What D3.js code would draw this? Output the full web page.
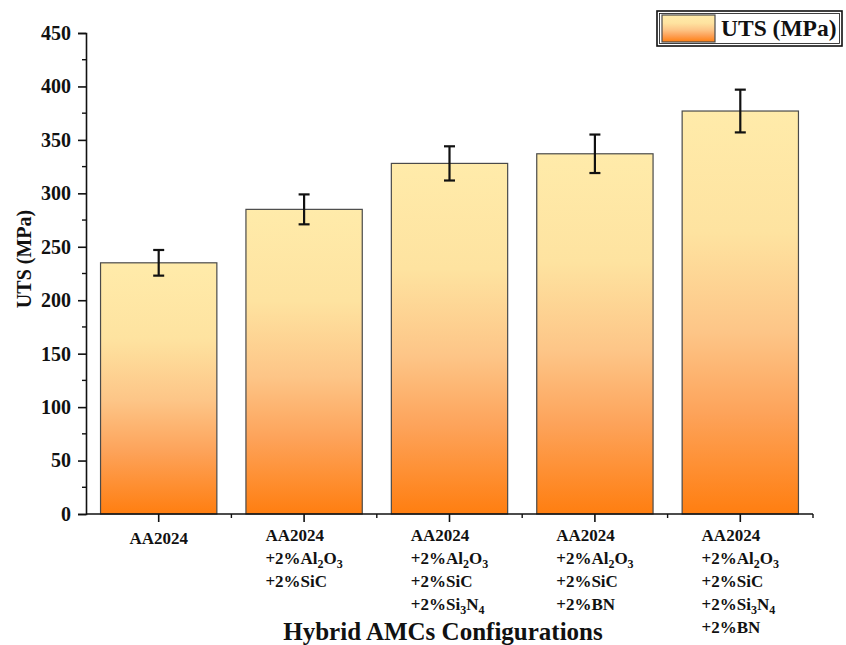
<!DOCTYPE html>
<html>
<head>
<meta charset="utf-8">
<script src="https://cdn.jsdelivr.net/npm/d3@7/dist/d3.min.js"></script>
<style>
  html, body { margin: 0; padding: 0; background: #fff; }
  svg { display: block; font-family: "Liberation Serif", "Times New Roman", serif; font-weight: bold; }
</style>
</head>
<body>
<svg id="chart" width="846" height="645"></svg>
<script>
// Category labels: one entry per line; {n} marks a subscript
const categories = [
  ["AA2024"],
  ["AA2024", "+2%Al{2}O{3}", "+2%SiC"],
  ["AA2024", "+2%Al{2}O{3}", "+2%SiC", "+2%Si{3}N{4}"],
  ["AA2024", "+2%Al{2}O{3}", "+2%SiC", "+2%BN"],
  ["AA2024", "+2%Al{2}O{3}", "+2%SiC", "+2%Si{3}N{4}", "+2%BN"]
];
const utsValues = [235, 285, 328, 337, 377];
const utsErrors = [12, 14, 16, 18, 20];
const yTicks = [0, 50, 100, 150, 200, 250, 300, 350, 400, 450];
const seriesName = "UTS (MPa)";
const xTitle = "Hybrid AMCs Configurations";
const yTitle = "UTS (MPa)";

const svg = d3.select("#chart");
const plotL = 86, plotR = 813, plotT = 33, plotB = 514;

const x = d3.scaleBand().domain(d3.range(categories.length)).range([plotL, plotR]).paddingInner(0.2).paddingOuter(0.1);
const xb = d3.scaleBand().domain(d3.range(categories.length)).range([plotL, plotR]).padding(0);
const y = d3.scaleLinear().domain([0, 450]).range([plotB, plotT]);

// Vertical gradient, applied per bar
const defs = svg.append("defs");
const grad = defs.append("linearGradient").attr("id", "barGrad")
  .attr("x1", 0).attr("y1", 0).attr("x2", 0).attr("y2", 1);
[[0, "#ffebaa"], [0.3, "#fee3a0"], [0.55, "#fdc587"], [0.75, "#fda35a"], [1, "#ff7e10"]]
  .forEach(([o, c]) => grad.append("stop").attr("offset", o).attr("stop-color", c));

// Bars
svg.append("g").selectAll("rect").data(utsValues).join("rect")
  .attr("x", (d, i) => x(i))
  .attr("y", d => y(d))
  .attr("width", x.bandwidth())
  .attr("height", d => y(0) - y(d))
  .attr("fill", "url(#barGrad)")
  .attr("stroke", "#4a4a4a")
  .attr("stroke-width", 1.2);

// Error bars
const eb = svg.append("g").attr("stroke", "#111").attr("stroke-width", 2.2);
utsValues.forEach((v, i) => {
  const cx = x(i) + x.bandwidth() / 2, e = utsErrors[i];
  eb.append("line").attr("x1", cx).attr("x2", cx).attr("y1", y(v + e)).attr("y2", y(v - e));
  eb.append("line").attr("x1", cx - 5.5).attr("x2", cx + 5.5).attr("y1", y(v + e)).attr("y2", y(v + e));
  eb.append("line").attr("x1", cx - 5.5).attr("x2", cx + 5.5).attr("y1", y(v - e)).attr("y2", y(v - e));
});

// Y axis
const yAxis = svg.append("g").attr("transform", `translate(${plotL},0)`)
  .call(d3.axisLeft(y).tickValues(yTicks).tickSize(8).tickPadding(7).tickFormat(d3.format("d")));
yAxis.select(".domain").attr("stroke-width", 1.6).attr("stroke", "#111");
yAxis.selectAll(".tick line").attr("stroke-width", 1.6).attr("stroke", "#111");
yAxis.selectAll("text").attr("font-size", 20).attr("font-family", "Liberation Serif").attr("font-weight", "bold").attr("fill", "#111");
// minor y ticks
svg.append("g").selectAll("line").data(d3.range(25, 450, 50)).join("line")
  .attr("x1", plotL - 4).attr("x2", plotL).attr("y1", d => y(d)).attr("y2", d => y(d))
  .attr("stroke", "#111").attr("stroke-width", 1.4);

// X axis
const xAxisG = svg.append("g").attr("transform", `translate(0,${plotB})`);
xAxisG.append("line").attr("x1", plotL).attr("x2", plotR).attr("stroke", "#111").attr("stroke-width", 1.6);
xAxisG.selectAll(".maj").data(d3.range(categories.length)).join("line").attr("class", "maj")
  .attr("x1", i => xb(i) + xb.bandwidth() / 2).attr("x2", i => xb(i) + xb.bandwidth() / 2)
  .attr("y1", 0).attr("y2", 8).attr("stroke", "#111").attr("stroke-width", 1.6);
xAxisG.selectAll(".min").data(d3.range(1, categories.length + 1)).join("line").attr("class", "min")
  .attr("x1", i => i < categories.length ? xb(i) : plotR).attr("x2", i => i < categories.length ? xb(i) : plotR)
  .attr("y1", 0).attr("y2", 4).attr("stroke", "#111").attr("stroke-width", 1.4);

// Category labels with subscripts, left-aligned lines, block centred under each tick
function addRich(textSel, str) {
  const parts = str.split(/(\{\d+\})/).filter(s => s.length);
  let shifted = false;
  parts.forEach(p => {
    const m = p.match(/^\{(\d+)\}$/);
    if (m) {
      textSel.append("tspan").attr("font-size", 12).attr("dy", shifted ? 0 : 3.5).text(m[1]);
      shifted = true;
    } else {
      textSel.append("tspan").attr("dy", shifted ? -3.5 : 0).text(p);
      shifted = false;
    }
  });
}
const lineH = 23;
categories.forEach((lines, i) => {
  const cx = xb(i) + xb.bandwidth() / 2;
  const g = svg.append("g");
  const texts = lines.map((ln, k) => {
    const t = g.append("text").attr("x", 0).attr("y", plotB + 27 + k * lineH + (i === 0 ? 3 : 0))
      .attr("font-size", 17).attr("fill", "#111");
    addRich(t, ln);
    return t;
  });
  const w = d3.max(texts, t => t.node().getComputedTextLength());
  g.attr("transform", `translate(${cx - w / 2},0)`);
});

// Axis titles
svg.append("text").attr("x", 443).attr("y", 640).attr("text-anchor", "middle")
  .attr("font-size", 25).attr("fill", "#111").text(xTitle);
svg.append("text").attr("transform", `translate(31,259) rotate(-90)`)
  .attr("text-anchor", "middle").attr("font-size", 20).attr("fill", "#111").text(yTitle);

// Legend
const lg = svg.append("g");
lg.append("rect").attr("x", 657).attr("y", 11).attr("width", 185).attr("height", 35)
  .attr("fill", "#fff").attr("stroke", "#111").attr("stroke-width", 1.6);
lg.append("rect").attr("x", 659.5).attr("y", 13.5).attr("width", 180).attr("height", 30)
  .attr("fill", "none").attr("stroke", "#111").attr("stroke-width", 0.8);
lg.append("rect").attr("x", 662).attr("y", 15).attr("width", 53).attr("height", 27)
  .attr("fill", "url(#barGrad)").attr("stroke", "#4a4a4a").attr("stroke-width", 1.2);
lg.append("text").attr("x", 721).attr("y", 36).attr("font-size", 23.5).attr("fill", "#111").text(seriesName);
</script>
</body>
</html>
